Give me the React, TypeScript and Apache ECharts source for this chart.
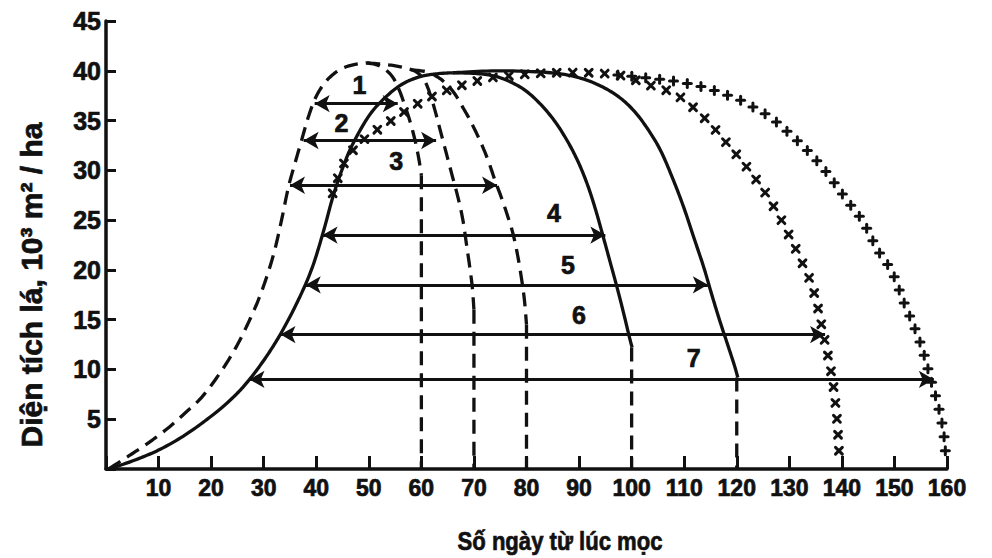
import React, { useEffect, useRef } from "react";
import * as echarts from "echarts";

const INK = "#111111";
const FONT = '"Liberation Sans", Arial, Helvetica, sans-serif';

// Axis tick labels
const xTickLabels = [10, 20, 30, 40, 50, 60, 70, 80, 90, 100, 110, 120, 130, 140, 150, 160];
const yTickLabels = [5, 10, 15, 20, 25, 30, 35, 40, 45];

const xTitle = "Số ngày từ lúc mọc";
const yTitle = "Diện tích lá, 10³ m² / ha";

// Dashed curves: common rise and three declines (to day 60, 70, 80)
const dashedRise = [
  [0.5, 0], [4, 1.2], [8, 2.6], [12, 4.2], [15, 5.6], [18.2, 7.2], [21.5, 9.5], [24.5, 12],
  [27, 14.6], [29, 17], [30.7, 19.5], [32.1, 22], [33.4, 25], [34.7, 28.3], [36, 30.8],
  [37.2, 33], [38.4, 35.2], [39.7, 37.1], [41.2, 38.5], [42.9, 39.5], [44.8, 40.2],
  [47, 40.6], [49.5, 40.8],
];
const dashedTo60 = [
  [49.5, 40.8], [52, 40.5], [54.2, 39.6], [55.6, 38.3], [56.8, 36.6], [57.9, 34.8],
  [58.8, 33], [59.5, 31.2], [60, 29.5],
];
const dashedTo70 = [
  [49.5, 40.8], [53.7, 40.6], [56.7, 40.3], [59, 39.9], [60.6, 39], [61.7, 37.6], [62.6, 36],
  [63.6, 34], [64.6, 32], [65.8, 29.6], [67, 27.2], [67.9, 25], [68.6, 22.5], [69.2, 20.3],
  [69.7, 18.2], [70, 16],
];
const dashedTo80 = [
  [58, 40.1], [61, 39.9], [63, 39.4], [64.5, 38.8], [66.2, 37.8], [67.8, 36.4], [69.4, 34.9],
  [71.3, 32.8], [72.7, 31], [74, 29], [75.2, 27.3], [76.3, 25.6], [77.4, 23.7], [78.3, 21.5],
  [79, 19.3], [79.6, 17], [80, 14.5],
];

// Solid curves: common rise and two declines (to day 100, 120)
const solidRise = [
  [0.5, 0], [5, 0.8], [10, 1.9], [15, 3.4], [20, 5.3], [24, 7.1], [27, 8.8], [30, 10.9],
  [32.7, 13.1], [35.2, 15.5], [37.5, 18], [39, 19.9], [40.1, 21.6], [41.6, 24.3],
  [43.2, 27.4], [45, 30.2], [47, 32.7], [50.2, 35.6], [53.5, 37.5], [56.5, 38.7],
  [59.7, 39.4], [63, 39.7], [66, 39.8],
];
const solidTo100 = [
  [66, 39.8], [71, 39.7], [75, 39.3], [79, 38.3], [82, 37], [85, 35.2], [87.5, 33.2],
  [89.7, 31], [91.5, 28.7], [93, 26.3], [94.4, 23.7], [95.8, 21], [97.2, 18.3],
  [98.5, 15.6], [99.6, 13.2], [100.1, 12.2],
];
const solidTo120 = [
  [66, 39.8], [75, 40], [84.6, 39.8], [90, 39.3], [94, 38.5], [97.5, 37.4], [100.4, 36],
  [103, 34.2], [105.5, 32], [107.8, 29.2], [109.9, 26.3], [111.8, 23.3], [113.7, 20.3],
  [115.2, 17.6], [116.7, 15], [118.2, 12.6], [119.5, 10.5], [120.2, 9.2],
];

// Marker curves: crosses ending near day 140, plus signs ending at day 160
const crossCurve = [
  [43, 27.5], [44.3, 29.5], [45.6, 31], [48, 32.6], [51.4, 34], [54.3, 35], [57.1, 36],
  [60, 36.9], [62.8, 37.6], [66.2, 38.3], [69.4, 38.8], [73.2, 39.3], [77, 39.5], [81, 39.7],
  [86, 39.8], [92, 39.8], [97, 39.6], [100, 39.2], [102.5, 38.7], [105, 38.3], [107.8, 37.8],
  [110.4, 36.9], [113, 35.7], [115.4, 34.4], [117.5, 33.1], [119.6, 31.8], [121.8, 30.4],
  [123.8, 29], [125.6, 27.6], [127.2, 26.2], [128.8, 24.7], [130.2, 23.2], [131.6, 21.7],
  [132.9, 20.2], [134.2, 18.6], [135.3, 16.5], [136.3, 14], [137.3, 11.5], [138.2, 9],
  [138.8, 6.5], [139.2, 4], [139.5, 1.2],
];
const plusCurve = [
  [97, 39.6], [101, 39.4], [104.5, 39.2], [107.6, 39], [110.8, 38.7], [113.3, 38.4],
  [115.8, 38], [118.4, 37.5], [120.9, 37], [123.3, 36.3], [125.6, 35.6], [127.9, 34.7],
  [129.8, 33.8], [131.7, 32.9], [133.6, 31.9], [135.5, 30.8], [137.4, 29.6], [138.9, 28.5],
  [140.4, 27.4], [142.1, 26.2], [143.7, 25.1], [145, 23.9], [146.1, 22.7], [147.4, 21.5],
  [149, 20.3], [150.2, 19], [151.6, 17], [153.2, 15], [154.7, 13], [155.9, 11], [156.9, 9],
  [158, 7], [158.9, 5], [159.5, 3], [159.8, 0.8],
];

// Dashed drop lines from each curve's end down to the day axis
const dropDays = [60, 70, 80, 100, 120];
const dropTops = [29.5, 16, 14.5, 12.2, 9.2];

// Duration arrows: numbered level, start day, end day, leaf-area level
const spanLabels = ["1", "2", "3", "4", "5", "6", "7"];
const spanLevels = [36.7, 33, 28.5, 23.5, 18.5, 13.5, 9];
const spanStarts = [39.7, 37.6, 35, 41.2, 38, 33.2, 27.3];
const spanEnds = [55.5, 62.8, 74.4, 95, 114.5, 136.8, 157.5];
const spanLabelAt = [
  [48.2, 38.6], [44.8, 34.8], [55.2, 30.9], [85.2, 25.7], [87.9, 20.5], [90, 15.5], [111.8, 11.1],
];

function catmull(pts: number[][], seg = 10): number[][] {
  const out: number[][] = [];
  for (let i = 0; i < pts.length - 1; i++) {
    const p0 = pts[Math.max(i - 1, 0)];
    const p1 = pts[i];
    const p2 = pts[i + 1];
    const p3 = pts[Math.min(i + 2, pts.length - 1)];
    for (let k = 0; k < seg; k++) {
      const t = k / seg;
      const t2 = t * t;
      const t3 = t2 * t;
      const f = (a: number, b: number, c: number, d: number) =>
        0.5 * (2 * b + (-a + c) * t + (2 * a - 5 * b + 4 * c - d) * t2 + (-a + 3 * b - 3 * c + d) * t3);
      out.push([f(p0[0], p1[0], p2[0], p3[0]), f(p0[1], p1[1], p2[1], p3[1])]);
    }
  }
  out.push(pts[pts.length - 1]);
  return out;
}

function spotsAlong(path: number[][], step: number, start: number): number[][] {
  const res: number[][] = [];
  let next = start;
  let acc = 0;
  for (let i = 1; i < path.length; i++) {
    const [x0, y0] = path[i - 1];
    const [x1, y1] = path[i];
    const d = Math.hypot(x1 - x0, y1 - y0);
    while (d > 0 && acc + d >= next) {
      const t = (next - acc) / d;
      res.push([x0 + (x1 - x0) * t, y0 + (y1 - y0) * t]);
      next += step;
    }
    acc += d;
  }
  return res;
}

function stroke(x1: number, y1: number, x2: number, y2: number) {
  return {
    type: "line",
    shape: { x1, y1, x2, y2 },
    style: { stroke: INK, lineWidth: 3, lineCap: "round" },
  };
}

function markerTrail(name: string, pts: number[][], step: number, kind: "x" | "+") {
  return {
    type: "custom",
    name,
    data: pts,
    encode: { x: 0, y: 1 },
    silent: true,
    z: 4,
    renderItem: (params: any, api: any) => {
      if (params.dataIndex !== 0) return null;
      const px = pts.map((p) => api.coord(p));
      const spots = spotsAlong(catmull(px), step, 2);
      const children: any[] = [];
      for (const [x, y] of spots) {
        if (kind === "x") {
          const s = 3.4;
          children.push(stroke(x - s, y - s, x + s, y + s), stroke(x - s, y + s, x + s, y - s));
        } else {
          const s = 4;
          children.push(stroke(x - s, y, x + s, y), stroke(x, y - s, x, y + s));
        }
      }
      return { type: "group", children };
    },
  };
}

// A smooth curve through the given points, drawn on the chart's own scales
function curve(name: string, pts: number[][], dashed: boolean) {
  return {
    type: "custom",
    name,
    data: pts,
    encode: { x: 0, y: 1 },
    silent: true,
    z: 3,
    renderItem: (params: any, api: any) => {
      if (params.dataIndex !== 0) return null;
      const px = pts.map((p) => api.coord(p));
      return {
        type: "polyline",
        shape: { points: pts.length > 2 ? catmull(px, 12) : px },
        style: {
          stroke: INK,
          fill: null,
          lineWidth: 3.3,
          lineDash: dashed ? [14, 8] : null,
          lineJoin: "round",
        },
      };
    },
  };
}

const boldText = { textBorderColor: INK, textBorderWidth: 0.7 };

export default function App() {
  const ref = useRef<HTMLDivElement>(null);

  useEffect(() => {
    if (!ref.current) return;
    const chart = echarts.init(ref.current, undefined, { renderer: "svg" });

    const dropSeries = dropDays.map((d, i) =>
      curve(`drop-${d}`, [[d, dropTops[i]], [d, 0]], true)
    );

    const option: any = {
      animation: false,
      backgroundColor: "#ffffff",
      grid: { left: 106, right: 45, top: 21, bottom: 89, containLabel: false },
      xAxis: {
        type: "value",
        min: 0,
        max: 160,
        interval: 10,
        axisLine: { show: true, lineStyle: { color: INK, width: 3.5 } },
        axisTick: { show: true, inside: true, length: 13, lineStyle: { color: INK, width: 3 } },
        axisLabel: {
          formatter: (v: number) => (xTickLabels.includes(v) ? String(v) : ""),
          fontSize: 23,
          fontWeight: "bold",
          fontFamily: FONT,
          color: INK,
          margin: 7,
          ...boldText,
        },
        splitLine: { show: false },
      },
      yAxis: {
        type: "value",
        min: 0,
        max: 45,
        interval: 5,
        axisLine: { show: true, lineStyle: { color: INK, width: 3.5 } },
        axisTick: { show: true, inside: true, length: 10, lineStyle: { color: INK, width: 3 } },
        axisLabel: {
          formatter: (v: number) => (yTickLabels.includes(v) ? String(v) : ""),
          fontSize: 25,
          fontWeight: "bold",
          fontFamily: FONT,
          color: INK,
          margin: 5,
          ...boldText,
        },
        splitLine: { show: false },
      },
      graphic: [
        {
          type: "text",
          x: 560,
          y: 541,
          scaleX: 0.85,
          style: {
            text: xTitle,
            font: `bold 26px ${FONT}`,
            fill: INK,
            stroke: INK,
            lineWidth: 0.7,
            align: "center",
            verticalAlign: "middle",
          },
        },
        {
          type: "text",
          x: 31,
          y: 285,
          rotation: Math.PI / 2,
          style: {
            text: yTitle,
            font: `bold 30px ${FONT}`,
            fill: INK,
            stroke: INK,
            lineWidth: 0.7,
            align: "center",
            verticalAlign: "middle",
          },
        },
      ],
      series: [
        {
          type: "line",
          name: "duration-arrows",
          data: [],
          silent: true,
          symbol: "none",
          markLine: {
            silent: true,
            symbol: ["arrow", "arrow"],
            symbolSize: [13, 15],
            label: { show: false },
            lineStyle: { color: INK, width: 3, type: "solid" },
            data: spanLevels.map((y, i) => [
              { coord: [spanStarts[i], y] },
              { coord: [spanEnds[i], y] },
            ]),
          },
        },
        curve("solid-rise", solidRise, false),
        curve("solid-100", solidTo100, false),
        curve("solid-120", solidTo120, false),
        curve("dashed-rise", dashedRise, true),
        curve("dashed-60", dashedTo60, true),
        curve("dashed-70", dashedTo70, true),
        curve("dashed-80", dashedTo80, true),
        ...dropSeries,
        markerTrail("cross-140", crossCurve, 16, "x"),
        markerTrail("plus-160", plusCurve, 14, "+"),
        {
          type: "custom",
          name: "span-labels",
          silent: true,
          z: 5,
          data: spanLabelAt,
          encode: { x: 0, y: 1 },
          renderItem: (params: any, api: any) => {
            const [x, y] = api.coord(spanLabelAt[params.dataIndex]);
            return {
              type: "text",
              x,
              y,
              style: {
                text: spanLabels[params.dataIndex],
                font: `bold 25px ${FONT}`,
                fill: INK,
                stroke: INK,
                lineWidth: 0.7,
                align: "center",
                verticalAlign: "middle",
              },
            };
          },
        },
      ],
    };

    chart.setOption(option);
    return () => chart.dispose();
  }, []);

  return (
    <div
      ref={ref}
      style={{ position: "fixed", left: 0, top: 0, width: 992, height: 558, background: "#fff" }}
    />
  );
}
